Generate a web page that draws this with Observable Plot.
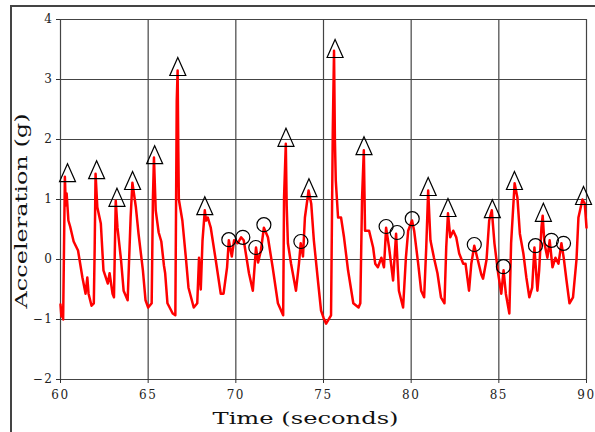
<!DOCTYPE html>
<html>
<head>
<meta charset="utf-8">
<script src="https://cdn.jsdelivr.net/npm/d3@7"></script>
<script src="https://cdn.jsdelivr.net/npm/@observablehq/plot@0.6"></script>
<style>
  html, body { margin: 0; padding: 0; background: #fff; }
  #wrap { position: relative; width: 595px; height: 432px; overflow: hidden; }
  #frame { position: absolute; left: 10px; top: 5px; width: 620px; height: 460px;
           border-left: 2px solid #444; border-top: 2px solid #444; pointer-events: none; }
  svg g[aria-label="x-axis tick label"] text, svg g[aria-label="y-axis tick label"] text { letter-spacing: 1.5px; }
</style>
</head>
<body>
<div id="wrap"><div id="frame"></div></div>
<script>
// acceleration trace (seconds, g)
const times = [60.00,60.05,60.10,60.15,60.20,60.25,60.30,60.35,60.45,60.55,60.75,61.00,61.25,61.43,61.53,61.60,61.77,61.90,61.95,62.00,62.10,62.30,62.45,62.70,62.80,62.97,63.05,63.15,63.25,63.45,63.60,63.83,64.00,64.10,64.30,64.45,64.70,64.85,65.00,65.20,65.27,65.33,65.43,65.60,65.75,65.90,65.97,66.10,66.40,66.55,66.63,66.68,66.72,66.75,66.95,67.15,67.30,67.60,67.80,67.90,68.00,68.10,68.23,68.30,68.40,68.57,68.86,69.14,69.30,69.50,69.60,69.77,69.90,70.10,70.30,70.45,70.75,70.97,71.15,71.27,71.43,71.60,71.83,72.10,72.40,72.70,72.75,72.85,72.90,72.97,73.15,73.43,73.60,73.70,73.83,73.94,74.15,74.30,74.45,74.70,74.86,75.00,75.15,75.43,75.53,75.60,75.65,75.70,75.83,76.00,76.17,76.40,76.70,77.00,77.10,77.20,77.30,77.37,77.60,77.83,77.95,78.10,78.30,78.45,78.57,78.74,78.97,79.14,79.30,79.54,79.70,79.83,80.05,80.17,80.40,80.57,80.74,80.86,80.97,81.10,81.30,81.50,81.70,81.90,82.00,82.10,82.23,82.40,82.57,82.74,82.97,83.10,83.30,83.43,83.60,83.77,84.00,84.10,84.30,84.45,84.60,84.75,84.96,85.14,85.27,85.40,85.60,85.70,85.90,86.06,86.20,86.40,86.57,86.74,86.90,87.03,87.20,87.30,87.43,87.50,87.60,87.77,87.90,88.06,88.23,88.40,88.57,88.70,88.86,89.03,89.23,89.43,89.54,89.77,89.90,90.00];
const accel = [-0.75,-0.95,-0.80,-1.00,0.20,1.38,0.90,1.10,0.65,0.55,0.30,0.15,-0.30,-0.57,-0.30,-0.57,-0.77,-0.73,0.20,1.43,0.87,0.60,-0.18,-0.40,-0.23,-0.57,-0.63,0.98,0.53,0.00,-0.52,-0.68,0.70,1.28,0.87,0.43,-0.18,-0.68,-0.80,-0.73,1.00,1.70,0.82,0.45,0.30,-0.10,-0.23,-0.73,-0.90,-0.93,2.65,3.15,1.80,1.00,0.65,0.03,-0.47,-0.80,-0.73,0.03,-0.50,0.32,0.82,0.65,0.70,0.53,-0.02,-0.57,-0.57,-0.13,0.32,0.05,0.32,0.27,0.37,0.32,-0.23,-0.52,0.20,-0.05,0.15,0.53,0.37,-0.13,-0.73,-0.93,1.03,1.93,0.90,0.27,-0.07,-0.52,-0.07,0.27,0.05,0.70,1.15,0.93,0.32,-0.40,-0.85,-0.97,-1.07,-0.93,2.15,3.48,2.00,1.32,0.70,0.70,0.37,-0.18,-0.73,-0.80,-0.73,1.03,1.82,0.48,0.48,0.20,-0.07,-0.13,0.03,-0.13,0.53,0.20,-0.35,0.43,-0.52,-0.80,0.03,0.48,0.65,0.48,-0.07,-0.52,-0.63,0.20,1.15,0.32,0.03,-0.23,-0.63,-0.73,0.20,0.77,0.37,0.48,0.37,0.10,-0.07,-0.07,-0.52,-0.07,0.23,0.03,-0.25,-0.32,0.00,0.65,0.82,0.27,-0.23,-0.57,-0.18,-0.57,-0.90,0.27,1.27,1.03,0.43,0.10,-0.30,-0.63,-0.47,0.20,-0.52,-0.18,0.53,0.73,0.27,0.03,0.32,-0.13,0.03,-0.07,0.27,0.03,-0.35,-0.73,-0.63,0.00,0.70,1.00,0.93,0.53];

// peak markers (triangles)
const triTimes  = [60.40,62.06,63.22,64.11,65.37,66.69,68.23,72.86,74.17,75.66,77.31,80.97,82.10,84.63,85.89,87.54,89.83];
const triValues = [1.43,1.48,1.02,1.30,1.73,3.20,0.88,2.02,1.18,3.50,1.88,1.20,0.85,0.83,1.30,0.77,1.05];

// secondary markers (circles)
const circTimes  = [69.60,70.40,71.14,71.60,73.71,78.57,79.20,80.06,83.60,85.26,87.09,88.00,88.69];
const circValues = [0.33,0.37,0.20,0.58,0.30,0.55,0.45,0.68,0.25,-0.12,0.23,0.32,0.27];

const xTicks = [60,65,70,75,80,85,90];
const yTicks = [-2,-1,0,1,2,3,4];
const xLabel = "Time (seconds)";
const yLabel = "Acceleration (g)";

const trace = times.map((t, i) => ({t, v: accel[i]}));
const tris = triTimes.map((t, i) => ({t, v: triValues[i]}));
const circs = circTimes.map((t, i) => ({t, v: circValues[i]}));

// tall isosceles triangle outline
const triSymbol = {
  draw(context) {
    context.moveTo(0, -10);
    context.lineTo(8, 8);
    context.lineTo(-8, 8);
    context.closePath();
  }
};

const fmt = d => d < 0 ? "\u2212" + (-d) : String(d);

const svg = Plot.plot({
  width: 595,
  height: 432,
  marginLeft: 60,
  marginRight: 9,
  marginTop: 19,
  marginBottom: 53,
  x: {domain: [60, 90]},
  y: {domain: [-2, 4]},
  style: {fontFamily: "DejaVu Serif", fontSize: "12px", background: "transparent", color: "#222"},
  marks: [
    Plot.gridX(xTicks, {stroke: "#444", strokeOpacity: 1, strokeWidth: 1.2}),
    Plot.gridY(yTicks, {stroke: "#444", strokeOpacity: 1, strokeWidth: 1.2}),
    Plot.axisX(xTicks, {tickSize: 4, tickPadding: 7, label: null, stroke: "#333", tickFormat: fmt}),
    Plot.axisY(yTicks, {tickSize: 4, tickPadding: 3, label: null, stroke: "#333", tickFormat: fmt}),
    Plot.line(trace, {x: "t", y: "v", stroke: "#ff0000", strokeWidth: 2.5, strokeLinejoin: "round"}),
    Plot.dot(tris, {x: "t", y: "v", symbol: triSymbol, r: 7, stroke: "black", strokeWidth: 1.2, fill: "none"}),
    Plot.dot(circs, {x: "t", y: "v", r: 7, stroke: "black", strokeWidth: 1.2, fill: "none"}),
    Plot.text([xLabel], {text: d => d, frameAnchor: "bottom", textAnchor: "start", dx: -111, dy: 44, fontSize: 16, fill: "#111"}),
    Plot.text([yLabel], {text: d => d, frameAnchor: "left", textAnchor: "start", rotate: -90, dx: -39, dy: 109, fontSize: 16, fill: "#111"})
  ]
});

d3.select(svg).selectAll("text")
  .filter(function() { return this.textContent === xLabel; })
  .attr("textLength", 186).attr("lengthAdjust", "spacingAndGlyphs");
d3.select(svg).selectAll("text")
  .filter(function() { return this.textContent === yLabel; })
  .attr("textLength", 195).attr("lengthAdjust", "spacingAndGlyphs");

document.getElementById("wrap").appendChild(svg);
</script>
</body>
</html>
